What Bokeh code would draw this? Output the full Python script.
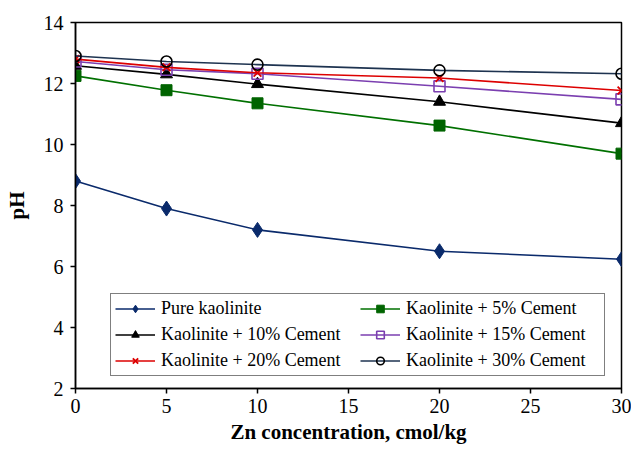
from bokeh.plotting import figure
from bokeh.models import Legend, LegendItem, FixedTicker, Range1d
from bokeh.embed import file_html
from bokeh.resources import INLINE

# Zn concentration (cmol/kg) and measured pH for each mix
zn = [0, 5, 10, 20, 30]
ph_pure = [8.80, 7.90, 7.20, 6.50, 6.24]
ph_5 = [12.25, 11.78, 11.35, 10.62, 9.70]
ph_10 = [12.58, 12.30, 11.98, 11.40, 10.70]
ph_15 = [12.72, 12.45, 12.32, 11.91, 11.48]
ph_20 = [12.80, 12.53, 12.35, 12.18, 11.77]
ph_30 = [12.90, 12.72, 12.62, 12.43, 12.32]

labels = [
    "Pure kaolinite",
    "Kaolinite + 5% Cement",
    "Kaolinite + 10% Cement",
    "Kaolinite + 15% Cement",
    "Kaolinite + 20% Cement",
    "Kaolinite + 30% Cement",
]
x_ticks = [0, 5, 10, 15, 20, 25, 30]
y_ticks = [2, 4, 6, 8, 10, 12, 14]

FONT = "Liberation Serif"

p = figure(width=631, height=449, output_backend="svg", toolbar_location=None,
           x_range=Range1d(0, 30), y_range=Range1d(2, 14),
           min_border_left=75, min_border_right=10, min_border_top=22,
           min_border_bottom=61)
p.background_fill_color = "white"
p.border_fill_color = "white"
p.outline_line_color = "black"
p.outline_line_width = 1.5
p.xgrid.visible = False
p.ygrid.visible = False

for ax in (p.xaxis[0], p.yaxis[0]):
    ax.axis_line_color = "black"
    ax.axis_line_width = 1.5
    ax.major_tick_line_color = "black"
    ax.major_tick_line_width = 1.5
    ax.major_tick_in = 0
    ax.major_tick_out = 5
    ax.minor_tick_line_color = None
    ax.major_label_text_font = FONT
    ax.major_label_text_font_size = "20px"
    ax.major_label_text_color = "black"
    ax.axis_label_text_font = FONT
    ax.axis_label_text_font_style = "bold"
    ax.axis_label_text_font_size = "21px"
    ax.axis_label_text_color = "black"

p.xaxis.ticker = FixedTicker(ticks=x_ticks)
p.yaxis.ticker = FixedTicker(ticks=y_ticks)
p.xaxis.axis_label = "Zn concentration, cmol/kg"
p.yaxis.axis_label = "pH"
p.xaxis.major_label_standoff = 5
p.yaxis.major_label_standoff = 7
p.xaxis.axis_label_standoff = 4
p.yaxis.axis_label_standoff = 12

items = []

r = p.line(zn, ph_pure, line_color="#0a2a6b", line_width=1.6)
m = p.scatter(zn, ph_pure, marker="diamond", size=15, fill_color="#0a2a6b",
              line_color="#0a2a6b")
items.append(LegendItem(label=labels[0], renderers=[r, m]))

r = p.line(zn, ph_5, line_color="#007000", line_width=1.6)
m = p.scatter(zn, ph_5, marker="square", size=11, fill_color="#006400",
              line_color="#006400")
items.append(LegendItem(label=labels[1], renderers=[r, m]))

r = p.line(zn, ph_10, line_color="black", line_width=1.6)
m = p.scatter(zn, ph_10, marker="triangle", size=12, fill_color="black",
              line_color="black")
items.append(LegendItem(label=labels[2], renderers=[r, m]))

r = p.line(zn, ph_15, line_color="#7b3fb0", line_width=1.6)
m = p.scatter(zn, ph_15, marker="square", size=11, fill_color="white",
              fill_alpha=0, line_color="#7b3fb0", line_width=1.6)
items.append(LegendItem(label=labels[3], renderers=[r, m]))

r = p.line(zn, ph_20, line_color="#dd0000", line_width=1.6)
m = p.scatter(zn, ph_20, marker="x", size=11, line_color="#dd0000",
              line_width=1.8)
items.append(LegendItem(label=labels[4], renderers=[r, m]))

r = p.line(zn, ph_30, line_color="#1e3350", line_width=1.6)
m = p.scatter(zn, ph_30, marker="circle", size=11, fill_color="white",
              fill_alpha=0, line_color="black", line_width=1.6)
items.append(LegendItem(label=labels[5], renderers=[r, m]))

# two columns: left column holds items 0,2,4 and right column 1,3,5
ordered = [items[0], items[2], items[4], items[1], items[3], items[5]]
legend = Legend(items=ordered, location=(35, 12), orientation="vertical",
                nrows=3)
legend.label_text_font = FONT
legend.label_text_font_size = "18px"
legend.label_text_color = "black"
legend.label_standoff = 6
legend.label_width = 194
legend.glyph_width = 40
legend.glyph_height = 19
legend.label_height = 19
legend.spacing = 5
legend.padding = 4
legend.margin = 0
legend.border_line_color = "black"
legend.border_line_width = 1.3
legend.background_fill_color = "white"
legend.background_fill_alpha = 1
p.add_layout(legend, "center")

open("out.html", "w").write(file_html(p, INLINE))
